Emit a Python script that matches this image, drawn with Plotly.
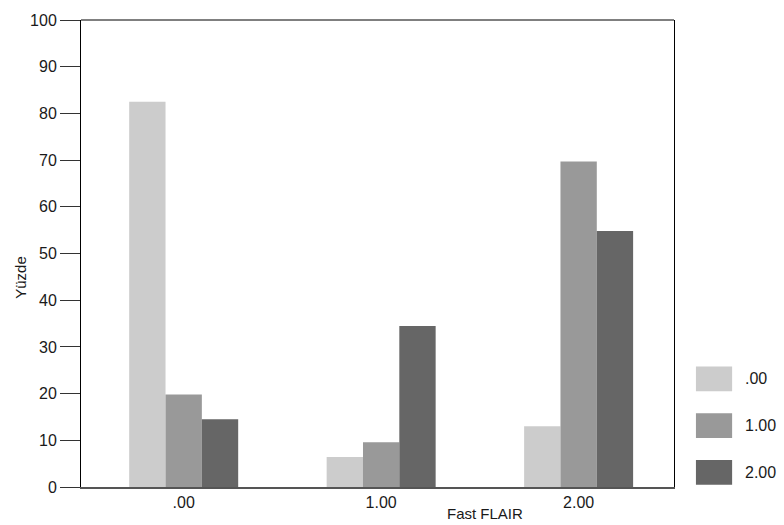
import plotly.graph_objects as go

categories = [".00", "1.00", "2.00"]
series_names = [".00", "1.00", "2.00"]
values_s0 = [82.5, 6.4, 13.0]
values_s1 = [19.8, 9.6, 69.7]
values_s2 = [14.5, 34.5, 54.8]
colors = ["#cccccc", "#999999", "#666666"]
y_ticks = [0, 10, 20, 30, 40, 50, 60, 70, 80, 90, 100]

FONT = "Liberation Sans, Arial, sans-serif"
TXT = "#1a1a1a"

fig = go.Figure()
for name, vals, col in zip(series_names, [values_s0, values_s1, values_s2], colors):
    fig.add_trace(go.Bar(x=categories, y=vals, name=name, showlegend=False,
                         marker=dict(color=col, line=dict(width=0))))

# manual legend (large swatches as in the reference)
shapes = [dict(type="line", xref="paper", yref="paper", x0=0, x1=1, y0=1, y1=1,
               line=dict(color="black", width=1))]
annotations = []
sw_x0, sw_x1 = 1.037, 1.098
top, h, step = 0.258, 0.053, 0.1
for i, (name, col) in enumerate(zip(series_names, colors)):
    y1 = top - i * step
    y0 = y1 - h
    shapes.append(dict(type="rect", xref="paper", yref="paper",
                       x0=sw_x0, x1=sw_x1, y0=y0, y1=y1,
                       fillcolor=col, line=dict(width=0)))
    annotations.append(dict(text=name, xref="paper", yref="paper",
                            x=1.116, y=(y0 + y1) / 2, showarrow=False,
                            xanchor="left", yanchor="middle",
                            font=dict(family=FONT, size=16, color=TXT)))

annotations += [
    dict(text="Fast FLAIR", xref="paper", yref="paper", x=0.681, y=0,
         yshift=-26, showarrow=False, xanchor="center", yanchor="middle",
         font=dict(family=FONT, size=15, color=TXT)),
    dict(text="Yüzde", xref="paper", yref="paper", x=0, xshift=-60,
         y=0.448, showarrow=False, textangle=-90,
         xanchor="center", yanchor="middle",
         font=dict(family=FONT, size=15, color=TXT)),
]

fig.update_layout(
    width=784, height=525,
    margin=dict(l=81, r=110, t=18, b=38),
    paper_bgcolor="white", plot_bgcolor="white",
    barmode="group", bargap=0.448, bargroupgap=0.0,
    font=dict(family=FONT, size=16, color=TXT),
    showlegend=False,
    xaxis=dict(type="category", range=[-0.52, 2.483],
               showline=True, linecolor="#555555", linewidth=2,
               ticks="", showgrid=False, zeroline=False,
               tickfont=dict(family=FONT, size=16, color=TXT)),
    yaxis=dict(range=[0, 100], tickvals=y_ticks,
               showline=True, linecolor="black", linewidth=1, mirror=True,
               ticks="outside", ticklen=20, tickcolor="#333333",
               ticklabelstandoff=0,
               showgrid=False, zeroline=False,
               tickfont=dict(family=FONT, size=16, color=TXT)),
    shapes=shapes,
    annotations=annotations,
)

fig.write_html("out.html",
               config={"displayModeBar": False},
               post_script="document.body.style.margin='0';document.body.style.overflow='hidden';")
